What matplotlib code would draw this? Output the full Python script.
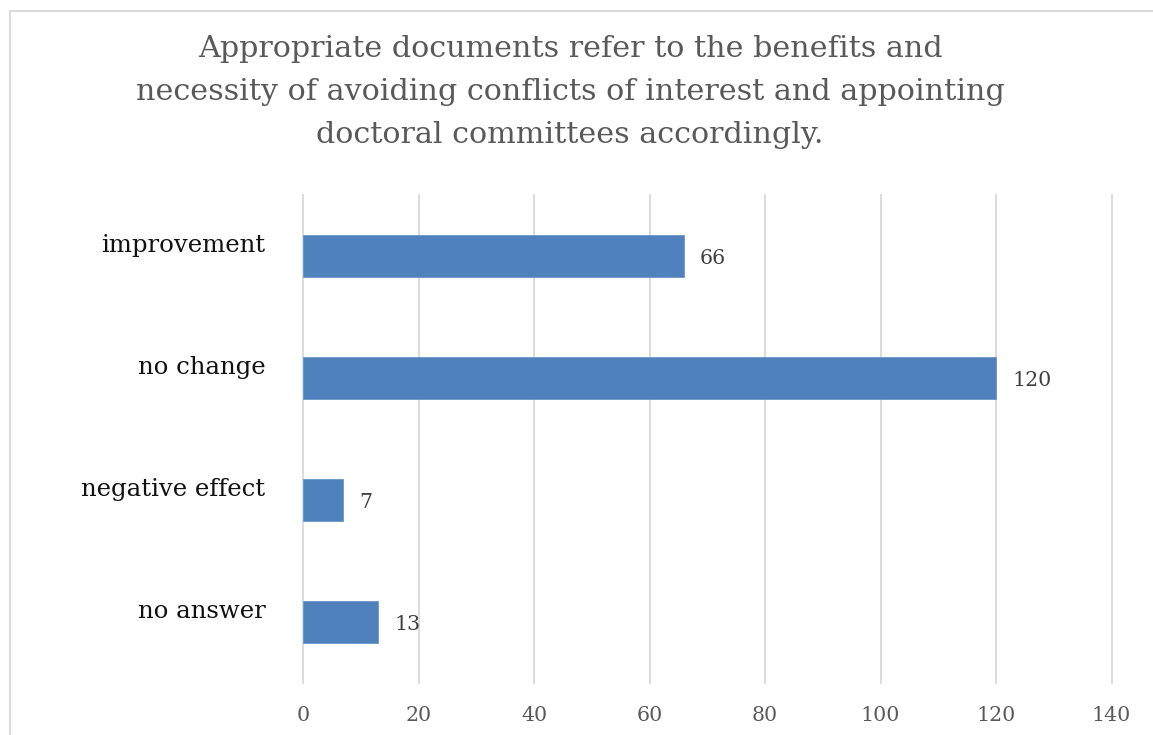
import matplotlib
matplotlib.use("Agg")
import matplotlib.pyplot as plt
from matplotlib.patches import Rectangle
from matplotlib.transforms import ScaledTranslation

# Survey responses
categories = ["improvement", "no change", "negative effect", "no answer"]
counts = [66, 120, 7, 13]
xticks = [0, 20, 40, 60, 80, 100, 120, 140]
title = ("Appropriate documents refer to the benefits and\n"
         "necessity of avoiding conflicts of interest and appointing\n"
         "doctoral committees accordingly.")

W, H = 1153, 735
fig = plt.figure(figsize=(W / 100, H / 100), dpi=100)
fig.patch.set_facecolor("white")

SERIF = ["DejaVu Serif"]
BAR = "#4F81BD"
GRID = "#D9D9D9"

# chart border (runs off the right and bottom edges)
fig.patches.append(Rectangle((9.5 / W, -0.2), 1.2, 1 - 10.5 / H + 0.2,
                             transform=fig.transFigure, fill=False,
                             edgecolor=GRID, linewidth=1.4, clip_on=False))

ax = fig.add_axes([303 / W, 1 - 683 / H, (1111.5 - 303) / W, (683 - 195) / H])
ypos = list(range(len(categories)))
ax.barh(ypos, counts, height=0.35, color=BAR, edgecolor="#6A95C9", linewidth=0.6, zorder=3)
ax.set_xlim(0, 140)
ax.set_ylim(len(categories) - 0.5, -0.5)
ax.set_xticks(xticks)
ax.set_xticklabels([str(t) for t in xticks], family=SERIF, fontsize=14.8, color="#595959")
ax.set_yticks(ypos)
ax.set_yticklabels(categories, family=SERIF, fontsize=17.6, color="#111111")
ax.tick_params(axis="x", length=0, pad=16.5)
ax.tick_params(axis="y", length=0, pad=27)
ax.grid(axis="x", color=GRID, linewidth=1.3, zorder=0)
for gl in ax.get_xgridlines():
    gl.set_clip_on(False)
ax.set_axisbelow(True)
for s in ax.spines.values():
    s.set_visible(False)

# category labels sit a little above the bar centres
lift = ScaledTranslation(0, 13 / 100, fig.dpi_scale_trans)
for lbl in ax.get_yticklabels():
    lbl.set_transform(lbl.get_transform() + lift)

for y, v in zip(ypos, counts):
    ax.annotate(str(v), xy=(v, y), xytext=(11.5, -1.5), textcoords="offset points",
                ha="left", va="center", family=SERIF, fontsize=14.8, color="#404040")

fig.text(570 / W, 1 - 92 / H, title, ha="center", va="center",
         family=SERIF, fontsize=21.7, color="#595959", linespacing=1.7)

fig.savefig("out.png", dpi=100)
